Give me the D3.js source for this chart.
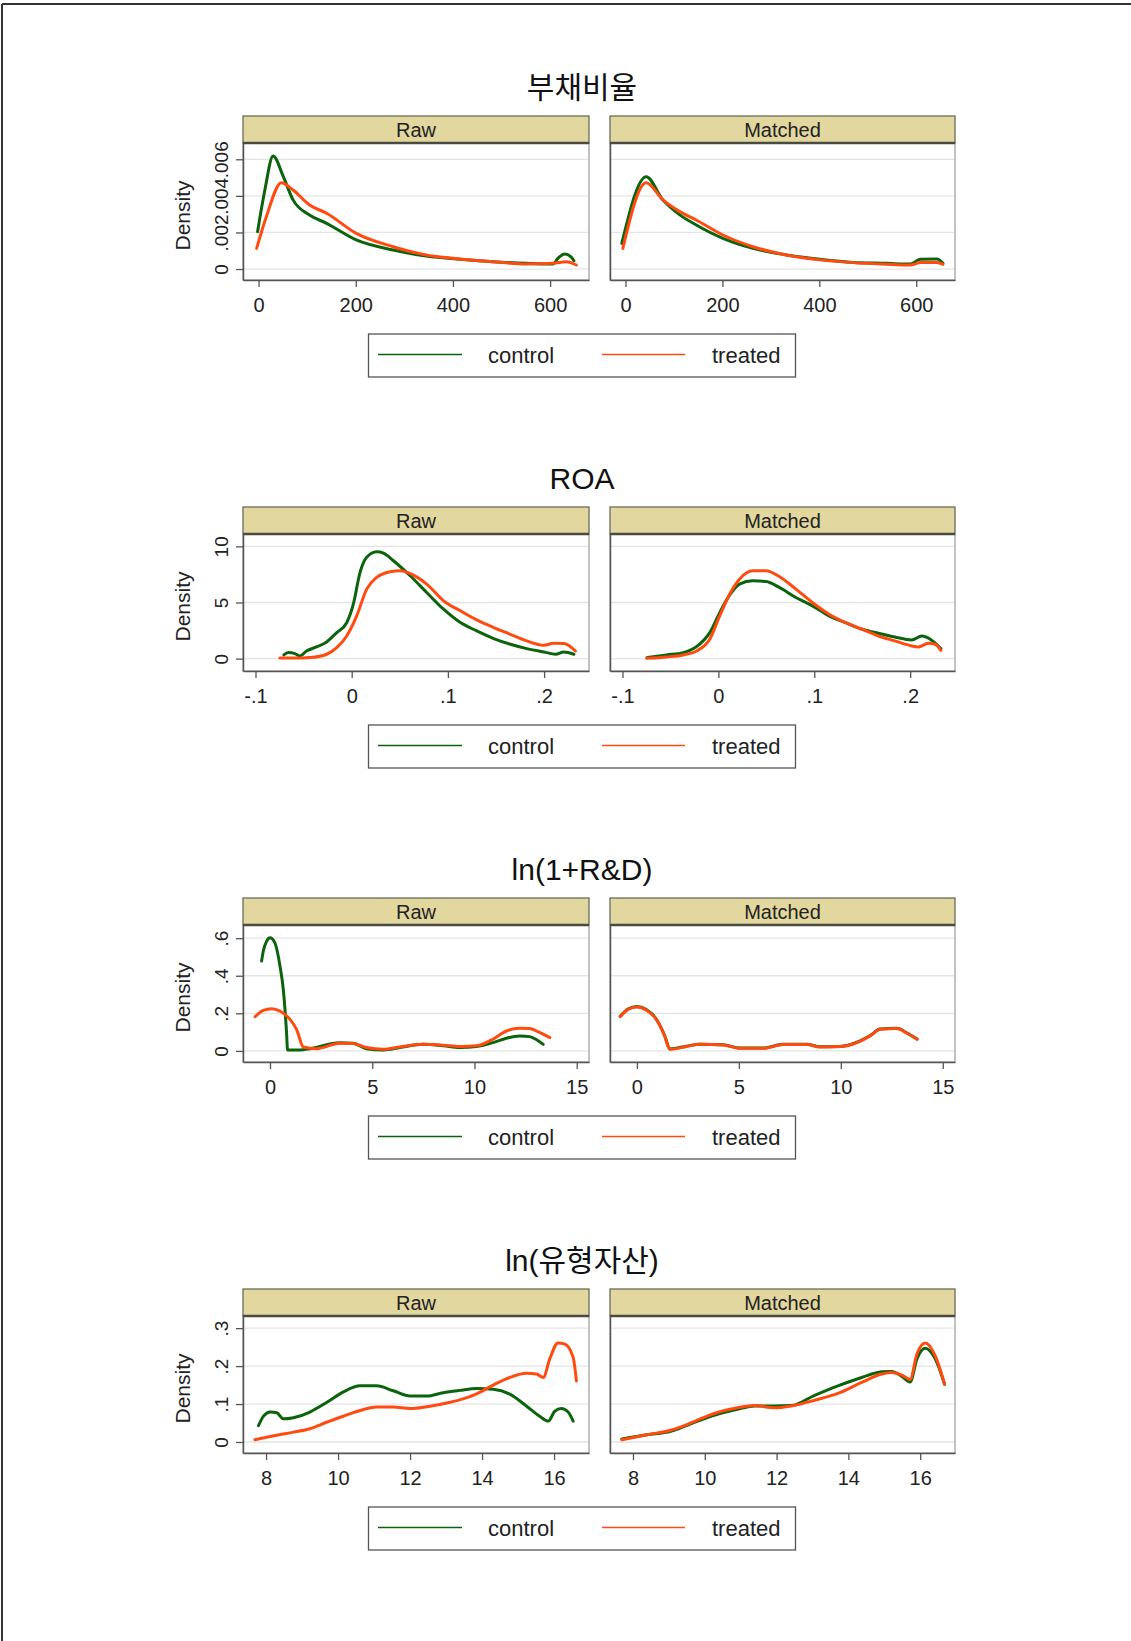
<!DOCTYPE html>
<html><head><meta charset="utf-8">
<script src="https://cdn.jsdelivr.net/npm/d3@7"></script>
<style>body{margin:0;background:#fff}svg{display:block}</style>
</head><body>
<script>
// ---------- DATA ----------
const panelTitles = ["부채비율", "ROA", "ln(1+R&D)", "ln(유형자산)"];
const facetLabels = ["Raw", "Matched"];
const seriesNames = ["control", "treated"];

const xTicks1 = [0, 200, 400, 600], xLabels1 = ["0", "200", "400", "600"];
const yTicks1 = [0, 0.002, 0.004, 0.006], yLabels1 = ["0", ".002", ".004", ".006"];
const xTicks2 = [-0.1, 0, 0.1, 0.2], xLabels2 = ["-.1", "0", ".1", ".2"];
const yTicks2 = [0, 5, 10], yLabels2 = ["0", "5", "10"];
const xTicks3 = [0, 5, 10, 15], xLabels3 = ["0", "5", "10", "15"];
const yTicks3 = [0, 0.2, 0.4, 0.6], yLabels3 = ["0", ".2", ".4", ".6"];
const xTicks4 = [8, 10, 12, 14, 16], xLabels4 = ["8", "10", "12", "14", "16"];
const yTicks4 = [0, 0.1, 0.2, 0.3], yLabels4 = ["0", ".1", ".2", ".3"];

// 부채비율
const debtRawControl = [[-2,0.00204],[13,0.00432],[30,0.00618],[51,0.00505],[71,0.00378],[105,0.00295],[140,0.0025],[201,0.00159],[277,0.00104],[345,0.00071],[414,0.00053],[482,0.0004],[551,0.00031],[606,0.00027],[616,0.00058],[630,0.00082],[643,0.00067],[649,0.00045]];
const debtRawTreated = [[-4,0.00113],[16,0.00286],[47,0.00472],[71,0.00432],[105,0.0035],[140,0.00305],[201,0.00195],[277,0.00122],[345,0.00077],[414,0.00055],[482,0.0004],[551,0.00027],[606,0.00031],[633,0.0004],[654,0.00022]];
const debtMatchedControl = [[-7.6,0.0014],[42.8,0.00505],[77,0.00378],[112,0.00296],[146,0.00241],[201,0.00168],[263,0.00113],[332,0.00077],[401,0.00053],[470,0.00036],[539,0.00031],[588,0.00027],[608,0.00053],[643,0.00055],[655,0.00031]];
const debtMatchedTreated = [[-5.5,0.00113],[42.8,0.00472],[77,0.00378],[112,0.00314],[146,0.00268],[201,0.00186],[263,0.00122],[332,0.00077],[401,0.0005],[470,0.00035],[539,0.00026],[588,0.00022],[608,0.00035],[643,0.00036],[655,0.00026]];

// ROA
const roaRawControl = [[-0.0705,0.33],[-0.066,0.54],[-0.059,0.45],[-0.054,0.24],[-0.047,0.68],[-0.036,1.07],[-0.026,1.49],[-0.0156,2.32],[-0.0052,3.2],[0.0017,4.85],[0.0087,7.68],[0.0156,9.02],[0.026,9.52],[0.033,9.4],[0.0434,8.72],[0.0608,7.38],[0.078,5.89],[0.0955,4.4],[0.113,3.21],[0.130,2.47],[0.1476,1.79],[0.165,1.28],[0.182,0.89],[0.1997,0.6],[0.212,0.39],[0.2205,0.6],[0.231,0.39]];
const roaRawTreated = [[-0.0747,0.05],[-0.061,0.05],[-0.043,0.1],[-0.026,0.39],[-0.0156,0.98],[-0.0052,2.02],[0.0052,3.81],[0.0156,6.19],[0.026,7.23],[0.040,7.74],[0.0503,7.83],[0.0642,7.44],[0.078,6.64],[0.0955,5.15],[0.113,4.26],[0.130,3.45],[0.1476,2.77],[0.165,2.17],[0.182,1.58],[0.1997,1.19],[0.21,1.37],[0.2205,1.34],[0.2326,0.68]];
const roaMatchedControl = [[-0.0746,0.09],[-0.054,0.33],[-0.0366,0.54],[-0.0228,1.07],[-0.009,2.32],[0.0014,4.1],[0.0117,5.65],[0.022,6.64],[0.0359,6.93],[0.0497,6.87],[0.0635,6.34],[0.0808,5.45],[0.098,4.7],[0.1153,3.81],[0.1326,3.21],[0.15,2.62],[0.167,2.26],[0.184,1.93],[0.2016,1.67],[0.212,2.02],[0.222,1.67],[0.232,0.89]];
const roaMatchedTreated = [[-0.0746,0.03],[-0.054,0.15],[-0.0366,0.33],[-0.0228,0.68],[-0.009,1.73],[0.0014,3.81],[0.0117,5.74],[0.022,7.08],[0.0359,7.83],[0.0497,7.83],[0.0635,7.32],[0.0808,6.19],[0.098,5.0],[0.1153,3.96],[0.1326,3.21],[0.15,2.62],[0.167,2.02],[0.184,1.58],[0.2016,1.13],[0.2085,1.04],[0.219,1.37],[0.226,1.28],[0.232,0.74]];

// ln(1+R&D)
const rndRawControl = [[-0.41,0.478],[-0.33,0.53],[-0.16,0.584],[0,0.602],[0.24,0.575],[0.49,0.451],[0.65,0.327],[0.81,0.097],[0.86,0.005],[1.47,0.005],[1.95,0.012],[3.42,0.044],[4.07,0.041],[4.72,0.012],[5.54,0.005],[6.35,0.018],[7.49,0.035],[8.47,0.027],[9.28,0.018],[10.1,0.023],[10.9,0.044],[11.56,0.067],[12.2,0.08],[12.7,0.076],[13.0,0.062],[13.36,0.035]];
const rndRawTreated = [[-0.73,0.182],[-0.33,0.216],[0.08,0.225],[0.49,0.212],[0.98,0.168],[1.3,0.115],[1.63,0.021],[2.28,0.012],[3.42,0.041],[4.07,0.039],[4.72,0.018],[5.54,0.009],[6.35,0.021],[7.49,0.035],[8.47,0.03],[9.28,0.023],[10.1,0.027],[10.9,0.062],[11.56,0.106],[12.2,0.12],[12.7,0.119],[13.2,0.097],[13.68,0.071]];
const rndMatchedControl = [[-0.82,0.184],[-0.44,0.223],[0,0.236],[0.46,0.22],[0.95,0.17],[1.36,0.082],[1.61,0.011],[2.43,0.025],[3.08,0.036],[4.23,0.033],[5.05,0.015],[6.2,0.015],[7.18,0.035],[8.33,0.035],[8.98,0.022],[9.97,0.024],[10.79,0.046],[11.44,0.082],[11.93,0.116],[12.75,0.12],[13.25,0.095],[13.74,0.063]];
const rndMatchedTreated = [[-0.82,0.182],[-0.44,0.221],[0,0.234],[0.46,0.218],[0.95,0.168],[1.36,0.08],[1.61,0.009],[2.43,0.023],[3.08,0.035],[4.23,0.032],[5.05,0.014],[6.2,0.014],[7.18,0.034],[8.33,0.034],[8.98,0.021],[9.97,0.023],[10.79,0.044],[11.44,0.08],[11.93,0.115],[12.75,0.119],[13.25,0.094],[13.74,0.062]];

// ln(유형자산)
const tanRawControl = [[7.79,0.043],[7.93,0.068],[8.11,0.079],[8.30,0.077],[8.48,0.061],[8.76,0.064],[9.22,0.079],[9.68,0.104],[10.15,0.132],[10.61,0.148],[11.07,0.148],[11.53,0.135],[12.0,0.121],[12.46,0.121],[12.92,0.13],[13.38,0.136],[13.85,0.141],[14.31,0.139],[14.77,0.126],[15.23,0.095],[15.6,0.068],[15.84,0.055],[16.02,0.081],[16.2,0.088],[16.39,0.079],[16.53,0.055]];
const tanRawTreated = [[7.69,0.006],[8.3,0.018],[8.76,0.026],[9.22,0.035],[9.68,0.052],[10.15,0.068],[10.61,0.083],[11.07,0.092],[11.53,0.092],[12.0,0.088],[12.46,0.093],[12.92,0.101],[13.38,0.111],[13.85,0.127],[14.31,0.150],[14.77,0.170],[15.23,0.181],[15.51,0.179],[15.7,0.170],[15.88,0.219],[16.11,0.261],[16.3,0.258],[16.53,0.223],[16.62,0.161]];
const tanMatchedControl = [[7.69,0.008],[8.39,0.019],[9.05,0.028],[9.61,0.048],[10.26,0.07],[10.91,0.086],[11.38,0.095],[11.94,0.095],[12.41,0.096],[13.06,0.123],[13.71,0.148],[14.37,0.170],[14.93,0.185],[15.21,0.186],[15.49,0.173],[15.72,0.158],[15.91,0.219],[16.14,0.247],[16.42,0.219],[16.68,0.152]];
const tanMatchedTreated = [[7.69,0.006],[8.39,0.019],[9.05,0.031],[9.61,0.05],[10.26,0.075],[10.91,0.09],[11.38,0.096],[11.94,0.09],[12.41,0.095],[13.06,0.11],[13.71,0.128],[14.37,0.157],[14.93,0.179],[15.21,0.183],[15.49,0.176],[15.72,0.165],[15.91,0.232],[16.14,0.261],[16.42,0.227],[16.68,0.152]];

// ---------- LAYOUT ----------
const W = 1131, H = 1641;
const panels = [
  { title: panelTitles[0], xd: [-32, 680], yd: [-0.0006, 0.00689], xt: xTicks1, xl: xLabels1, yt: yTicks1, yl: yLabels1,
    series: [[debtRawControl, debtRawTreated], [debtMatchedControl, debtMatchedTreated]] },
  { title: panelTitles[1], xd: [-0.113, 0.2467], yd: [-1.1, 11.1], xt: xTicks2, xl: xLabels2, yt: yTicks2, yl: yLabels2,
    series: [[roaRawControl, roaRawTreated], [roaMatchedControl, roaMatchedTreated]] },
  { title: panelTitles[2], xd: [-1.32, 15.6], yd: [-0.059, 0.67], xt: xTicks3, xl: xLabels3, yt: yTicks3, yl: yLabels3,
    series: [[rndRawControl, rndRawTreated], [rndMatchedControl, rndMatchedTreated]] },
  { title: panelTitles[3], xd: [7.36, 16.97], yd: [-0.029, 0.332], xt: xTicks4, xl: xLabels4, yt: yTicks4, yl: yLabels4,
    series: [[tanRawControl, tanRawTreated], [tanMatchedControl, tanMatchedTreated]] }
];
const colors = ["#0b640b", "#ff4b0f"];
const facetX = [[243, 589], [610, 955]];
const step = 391, top0 = 116, stripH = 27, plotH = 137;
const FONT = "'Liberation Sans', Arial, 'Noto Sans CJK KR', sans-serif";

const svg = d3.select("body").append("svg").attr("width", W).attr("height", H)
  .style("font-family", FONT);
svg.append("rect").attr("width", W).attr("height", H).attr("fill", "#fff");
// outer frame
svg.append("line").attr("x1", 2).attr("x2", W).attr("y1", 4).attr("y2", 4).attr("stroke", "#333").attr("stroke-width", 2);
svg.append("line").attr("x1", 2).attr("x2", 2).attr("y1", 4).attr("y2", H).attr("stroke", "#333").attr("stroke-width", 2);

const line = d3.line().curve(d3.curveMonotoneX);

panels.forEach((p, pi) => {
  const oy = pi * step;
  const stripTop = top0 + oy;
  const plotTop = stripTop + stripH;
  const plotBot = plotTop + plotH;
  const g = svg.append("g");

  g.append("text").attr("x", 582).attr("y", 98 + oy).attr("text-anchor", "middle")
    .attr("font-size", 30).attr("fill", "#111").text(p.title);

  facetX.forEach(([x0, x1], fi) => {
    const x = d3.scaleLinear().domain(p.xd).range([x0, x1]);
    const y = d3.scaleLinear().domain(p.yd).range([plotBot, plotTop]);
    const fg = g.append("g");

    // plot region border
    fg.append("rect").attr("x", x0).attr("y", plotTop).attr("width", x1 - x0).attr("height", plotH)
      .attr("fill", "#fff").attr("stroke", "#9a9a9a").attr("stroke-width", 1.2);
    // grid
    fg.selectAll(".grid").data(p.yt).join("line")
      .attr("x1", x0 + 1).attr("x2", x1 - 1).attr("y1", d => y(d)).attr("y2", d => y(d))
      .attr("stroke", "#e4e4e4").attr("stroke-width", 1.3);

    // strip
    fg.append("rect").attr("x", x0).attr("y", stripTop).attr("width", x1 - x0).attr("height", stripH)
      .attr("fill", "#e3d7a0").attr("stroke", "#6b6b5a").attr("stroke-width", 1.3);
    fg.append("line").attr("x1", x0).attr("x2", x1).attr("y1", plotTop).attr("y2", plotTop)
      .attr("stroke", "#4a4a40").attr("stroke-width", 2.5);
    fg.append("text").attr("x", (x0 + x1) / 2).attr("y", stripTop + 20.5).attr("text-anchor", "middle")
      .attr("font-size", 20).attr("fill", "#222").text(facetLabels[fi]);

    // x axis
    const xa = fg.append("g").attr("transform", `translate(0,${plotBot})`)
      .call(d3.axisBottom(x).tickValues(p.xt).tickFormat((d, i) => p.xl[i]).tickSize(7).tickSizeOuter(0));
    xa.select(".domain").attr("stroke", "#555").attr("stroke-width", 1.5);
    xa.selectAll(".tick line").attr("stroke", "#555").attr("stroke-width", 1.3);
    xa.selectAll("text").attr("y", 32).attr("dy", 0).attr("font-size", 20).attr("fill", "#222")
      .style("font-family", FONT);

    // y axis
    const ya = fg.append("g").attr("transform", `translate(${x0},0)`)
      .call(d3.axisLeft(y).tickValues(p.yt).tickFormat((d, i) => p.yl[i]).tickSize(fi === 0 ? 7 : 0).tickSizeOuter(0));
    ya.select(".domain").attr("stroke", "#555").attr("stroke-width", 1.5);
    ya.selectAll(".tick line").attr("stroke", "#555").attr("stroke-width", 1.3);
    ya.selectAll("text").attr("transform", "rotate(-90)").attr("x", 0).attr("y", -15).attr("dy", 0)
      .attr("text-anchor", "middle").attr("font-size", 19).attr("fill", "#222").style("font-family", FONT);
    if (fi === 1) { ya.selectAll("text").remove(); ya.selectAll(".tick line").remove(); }

    // curves
    p.series[fi].forEach((data, si) => {
      fg.append("path").attr("d", line(data.map(d => [x(d[0]), y(d[1])])))
        .attr("fill", "none").attr("stroke", colors[si]).attr("stroke-width", 3)
        .attr("stroke-linejoin", "round").attr("stroke-linecap", "round");
    });
  });

  // y title
  g.append("text").attr("transform", `translate(190,${(plotTop + plotBot) / 2 + 4}) rotate(-90)`)
    .attr("text-anchor", "middle").attr("font-size", 21).attr("fill", "#222").text("Density");

  // legend
  const lg = g.append("g").attr("transform", `translate(0,${oy})`);
  lg.append("rect").attr("x", 368.5).attr("y", 334).attr("width", 427).attr("height", 43)
    .attr("fill", "#fff").attr("stroke", "#555").attr("stroke-width", 1.3);
  const lx = [[378, 462, 488], [602, 685, 712]];
  seriesNames.forEach((s, si) => {
    lg.append("line").attr("x1", lx[si][0]).attr("x2", lx[si][1]).attr("y1", 354.5).attr("y2", 354.5)
      .attr("stroke", colors[si]).attr("stroke-width", 1.6);
    lg.append("text").attr("x", lx[si][2]).attr("y", 363).attr("font-size", 22).attr("fill", "#222").text(s);
  });
});
</script>
</body></html>
